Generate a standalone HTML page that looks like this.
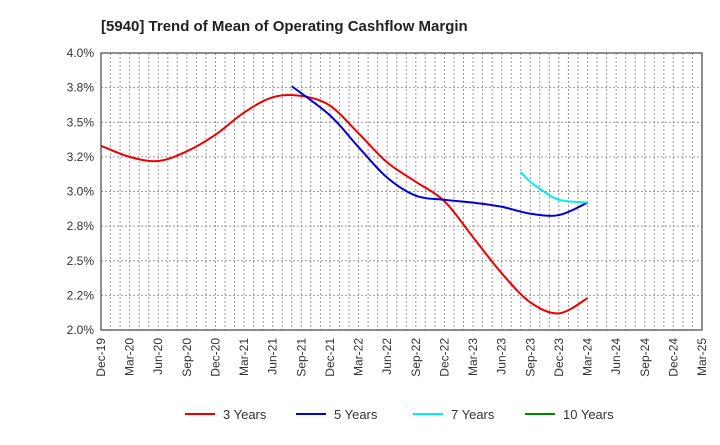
<!DOCTYPE html>
<html><head><meta charset="utf-8"><style>
body{margin:0;background:#fff;font-family:"Liberation Sans",sans-serif;}
</style></head><body>
<svg id="chart" width="720" height="440" xmlns="http://www.w3.org/2000/svg" font-family="Liberation Sans, sans-serif">
<text x="101" y="31" font-size="15" font-weight="bold" fill="#222">[5940]  Trend of Mean of Operating Cashflow Margin</text>
<g id="grid"></g><g id="series"></g><g id="axes"></g><g id="legend"></g>
</svg>
<script>
const xLabels=["Dec-19","Mar-20","Jun-20","Sep-20","Dec-20","Mar-21","Jun-21","Sep-21","Dec-21","Mar-22","Jun-22","Sep-22","Dec-22","Mar-23","Jun-23","Sep-23","Dec-23","Mar-24","Jun-24","Sep-24","Dec-24","Mar-25"];
const yTicks=[2.0,2.25,2.5,2.75,3.0,3.25,3.5,3.75,4.0];
const yTickLabels=["2.0%","2.2%","2.5%","2.8%","3.0%","3.2%","3.5%","3.8%","4.0%"];
// month index from Dec-19
const m3=[0,3,6,9,12,15,18,21,24,27,30,33,36,39,42,45,48,51];
const v3=[3.33,3.25,3.22,3.29,3.41,3.57,3.68,3.69,3.62,3.42,3.21,3.07,2.93,2.67,2.41,2.20,2.12,2.23];
const m5=[20,24,27,30,33,36,39,42,45,48,51];
const v5=[3.76,3.55,3.32,3.10,2.97,2.94,2.92,2.89,2.84,2.83,2.92];
const m7=[44,45,46,48,51];
const v7=[3.14,3.07,3.02,2.94,2.92];
const m10=[];const v10=[];
const L=101,R=702,T=53,B=330,NM=63;
const X=m=>L+(R-L)*m/NM;
const Y=v=>B-(B-T)*(v-2)/2;
const NS="http://www.w3.org/2000/svg";
function mk(tag,attrs,parent){const e=document.createElementNS(NS,tag);for(const k in attrs)e.setAttribute(k,attrs[k]);parent.appendChild(e);return e;}
const grid=document.getElementById('grid'),axes=document.getElementById('axes'),ser=document.getElementById('series'),leg=document.getElementById('legend');
for(let m=1;m<NM;m++){const l=mk('line',{x1:X(m),x2:X(m),y1:T,y2:B,stroke:'#999','stroke-dasharray':'2,2','stroke-width':1},grid);

}
yTicks.forEach((v,i)=>{const l=mk('line',{x1:L,x2:R,y1:Y(v),y2:Y(v),stroke:'#999','stroke-dasharray':'2,2','stroke-width':1},grid);


const t=mk('text',{x:L-7,y:Y(v)+4,'text-anchor':'end','font-size':12,fill:'#333'},axes);t.textContent=yTickLabels[i];

});
xLabels.forEach((s,i)=>{const x=X(i*3);const t=mk('text',{transform:`translate(${x+4},${B+8}) rotate(-90)`,'text-anchor':'end','font-size':12,fill:'#333'},axes);t.textContent=s;

});
const fr=mk('rect',{x:L,y:T,width:R-L,height:B-T,fill:'none',stroke:'#444','stroke-width':1.2},axes);


function path(ms,vs){const p=ms.map((m,i)=>[X(m),Y(vs[i])]);if(!p.length)return '';let d=`M${p[0][0]},${p[0][1]}`;
for(let i=0;i<p.length-1;i++){const p0=p[Math.max(0,i-1)],p1=p[i],p2=p[i+1],p3=p[Math.min(p.length-1,i+2)];
const c1=[p1[0]+(p2[0]-p0[0])/6,p1[1]+(p2[1]-p0[1])/6],c2=[p2[0]-(p3[0]-p1[0])/6,p2[1]-(p3[1]-p1[1])/6];
d+=`C${c1[0]},${c1[1]} ${c2[0]},${c2[1]} ${p2[0]},${p2[1]}`;}return d;}
const series=[[m3,v3,'#ee0000','3 Years','line-3-years'],[m5,v5,'#0000dd','5 Years','line-5-years'],[m7,v7,'#00eeee','7 Years','line-7-years'],[m10,v10,'#008800','10 Years','line-10-years']];
const lx=[185,296,413,525];
series.forEach((s,i)=>{if(s[0].length){const p=mk('path',{d:path(s[0],s[1]),fill:'none',stroke:s[2],'stroke-width':2},ser);

}
const g=mk('g',{},leg);


mk('line',{x1:lx[i],x2:lx[i]+30,y1:414,y2:414,stroke:s[2],'stroke-width':2},g);
const t=mk('text',{x:lx[i]+38,y:419,'font-size':13,fill:'#333'},g);t.textContent=s[3];});
</script>
</body></html>
